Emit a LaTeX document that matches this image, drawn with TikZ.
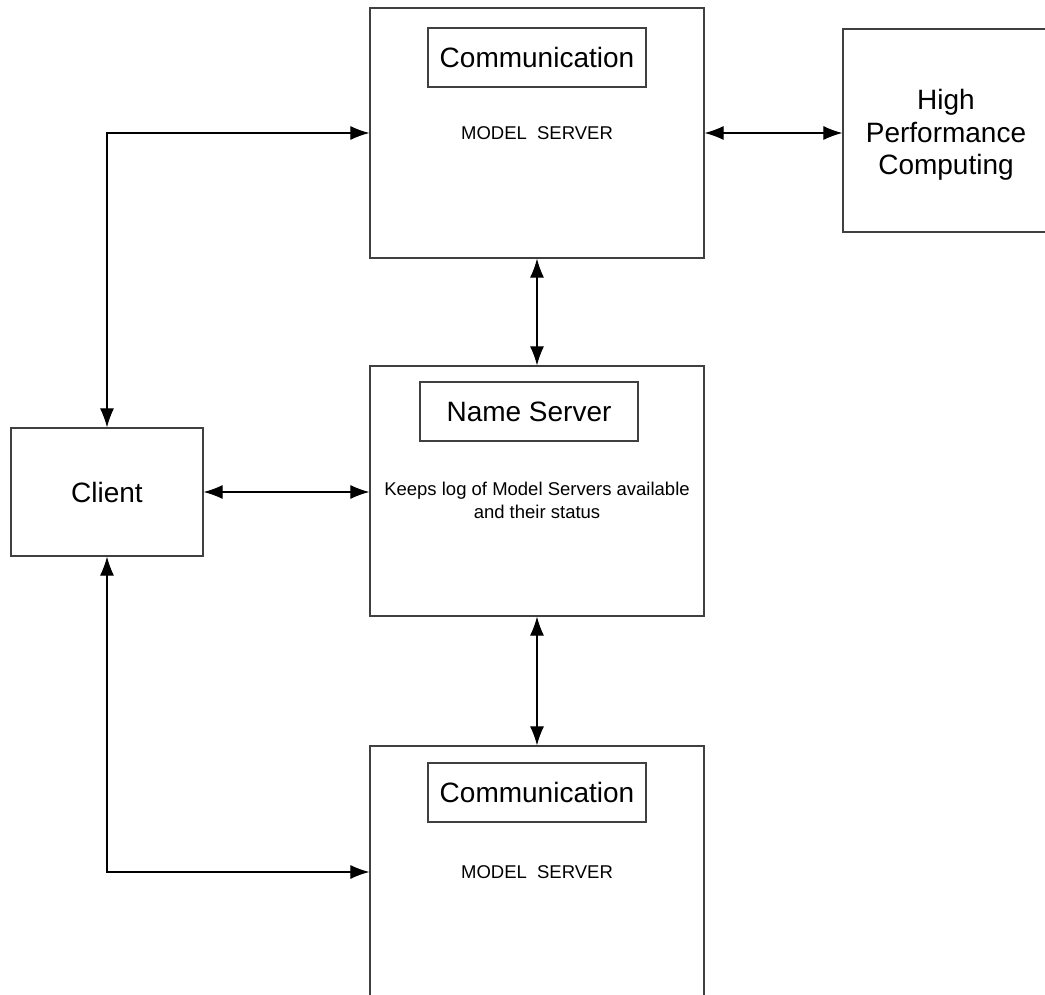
\documentclass[tikz,border=0pt]{standalone}
\usepackage{fontspec}
\setmainfont{Liberation Sans}
\usetikzlibrary{arrows.meta}

\newcommand{\bigtxt}{\fontsize{28}{32.5}\selectfont}
\newcommand{\smalltxt}{\fontsize{18.5}{23}\selectfont}

\begin{document}
\begin{tikzpicture}[x=1pt, y=-1pt, >={Latex[length=19pt,width=14pt]},
		box/.style={draw=black!75, line width=1.3pt, inner sep=0pt, align=center},
		link/.style={<->, line width=1.1pt}]
	\useasboundingbox (0,0) rectangle (1045,995);

	% model server (top) with its communication layer
	\node[box, minimum width=334pt, minimum height=250pt] (ms1) at (537,133) {};
	\node[box, minimum width=218pt, minimum height=59pt, font=\bigtxt]
	(comm1) at (537,57.5) {Communication};
	\node[font=\smalltxt] (ms1lbl) at (537,133) {MODEL\ \ SERVER};

	\node[box, minimum width=206pt, minimum height=203pt, font=\bigtxt]
	(hpc) at (946,130.5) {};
	\node[align=center, font=\bigtxt] (hpclbl) at (946,135)
	{High\\Performance\\Computing};

	% name server
	\node[box, minimum width=334pt, minimum height=250pt] (ns) at (537,491) {};
	\node[box, minimum width=218pt, minimum height=59pt, font=\bigtxt]
	(nsname) at (529,411.5) {Name Server};
	\node[align=center, font=\smalltxt] (nslbl) at (537,500)
	{Keeps log of Model Servers available\\and their status};

	\node[box, minimum width=192pt, minimum height=128pt, font=\bigtxt]
	(client) at (107,492) {Client};

	% model server (bottom)
	\node[box, minimum width=334pt, minimum height=260pt] (ms2) at (537,876) {};
	\node[box, minimum width=218pt, minimum height=59pt, font=\bigtxt]
	(comm2) at (537,792.5) {Communication};
	\node[font=\smalltxt] (ms2lbl) at (537,872) {MODEL\ \ SERVER};

	\draw[link] (client) |- (ms1lbl -| ms1.west);
	\draw[link] (client) |- (ms2lbl -| ms2.west);
	\draw[link] (client.east) -- (client.east -| ns.west);

	\draw[link] (ms1lbl -| ms1.east) -- (ms1lbl -| hpc.west);
	\draw[link] (ms1) -- (ns);
	\draw[link] (ns) -- (ms2);
\end{tikzpicture}
\end{document}
